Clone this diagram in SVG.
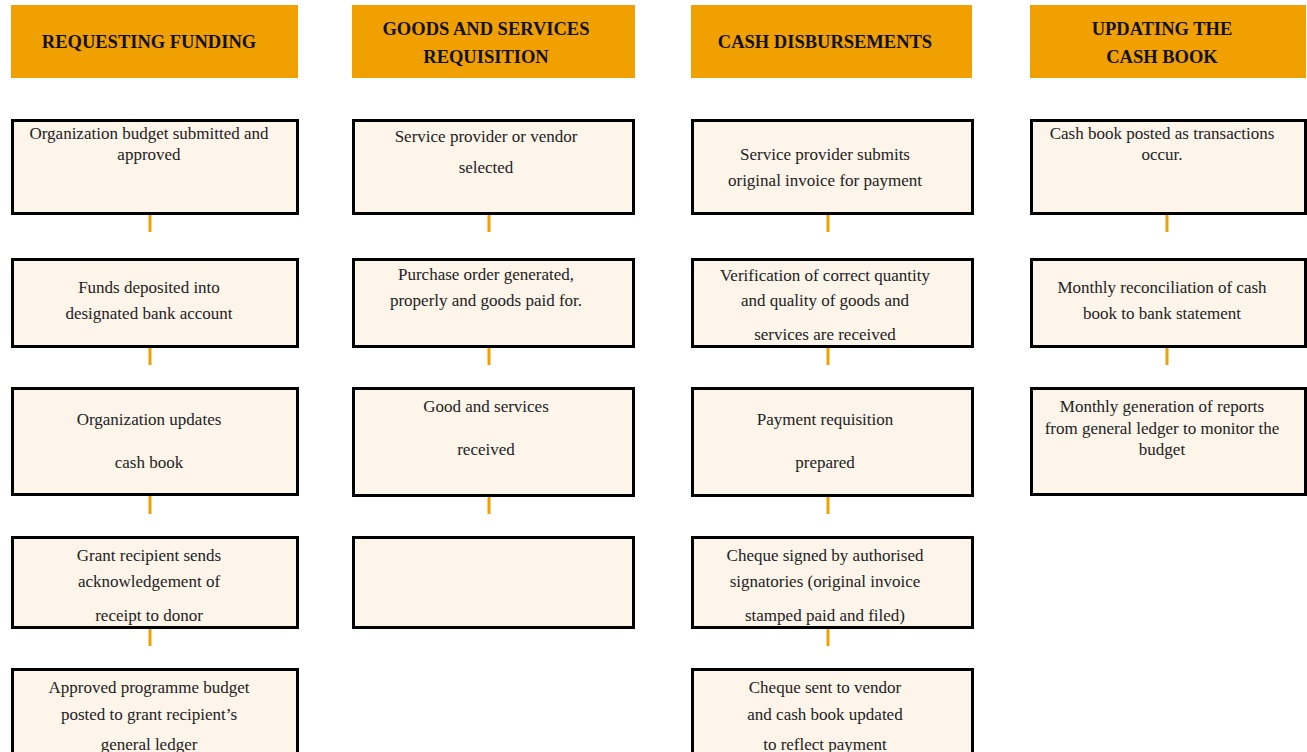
<svg xmlns="http://www.w3.org/2000/svg" width="1307" height="752" viewBox="0 0 1307 752">
<style>
.hdr{fill:#F0A000}
.box{fill:#FDF4EA;stroke:#000;stroke-width:3}
.ht{font-family:"Liberation Serif",serif;font-weight:bold;font-size:18.5px;fill:#111;text-anchor:middle}
.t{font-family:"Liberation Serif",serif;font-size:17px;fill:#222;text-anchor:middle}
.c{stroke:#F0A000;stroke-width:3;fill:none}
</style>
<rect width="1307" height="752" fill="#fff"/>
<g id="h1"><rect class="hdr" x="11" y="5" width="287" height="73"/><text class="ht" x="149" y="48">REQUESTING FUNDING</text></g>
<g id="h2"><rect class="hdr" x="352" y="5" width="283" height="73"/><text class="ht" x="486" y="35">GOODS AND SERVICES</text><text class="ht" x="486" y="63">REQUISITION</text></g>
<g id="h3"><rect class="hdr" x="691" y="5" width="281" height="73"/><text class="ht" x="825" y="48">CASH DISBURSEMENTS</text></g>
<g id="h4"><rect class="hdr" x="1030" y="5" width="276" height="73"/><text class="ht" x="1162" y="35">UPDATING THE</text><text class="ht" x="1162" y="63">CASH BOOK</text></g>

<g id="connectors">
<line class="c" x1="150" y1="214" x2="150" y2="232"/>
<line class="c" x1="150" y1="347" x2="150" y2="365"/>
<line class="c" x1="150" y1="495" x2="150" y2="514"/>
<line class="c" x1="150" y1="628" x2="150" y2="646"/>
<line class="c" x1="489" y1="214" x2="489" y2="232"/>
<line class="c" x1="489" y1="347" x2="489" y2="365"/>
<line class="c" x1="489" y1="496" x2="489" y2="514"/>
<line class="c" x1="828" y1="214" x2="828" y2="232"/>
<line class="c" x1="828" y1="347" x2="828" y2="365"/>
<line class="c" x1="828" y1="496" x2="828" y2="514"/>
<line class="c" x1="828" y1="628" x2="828" y2="646"/>
<line class="c" x1="1167" y1="214" x2="1167" y2="232"/>
<line class="c" x1="1167" y1="347" x2="1167" y2="365"/>
</g>

<g id="n1a"><rect class="box" x="12.5" y="120.5" width="285" height="93"/><text class="t" x="149" y="139">Organization budget submitted and</text><text class="t" x="149" y="160">approved</text></g>
<g id="n1b"><rect class="box" x="12.5" y="259.5" width="285" height="87"/><text class="t" x="149" y="293">Funds deposited into</text><text class="t" x="149" y="319">designated bank account</text></g>
<g id="n1c"><rect class="box" x="12.5" y="388.5" width="285" height="106"/><text class="t" x="149" y="425">Organization updates</text><text class="t" x="149" y="468">cash book</text></g>
<g id="n1d"><rect class="box" x="12.5" y="537.5" width="285" height="90"/><text class="t" x="149" y="561">Grant recipient sends</text><text class="t" x="149" y="587">acknowledgement of</text><text class="t" x="149" y="621">receipt to donor</text></g>
<g id="n1e"><rect class="box" x="12.5" y="669.5" width="285" height="100"/><text class="t" x="149" y="693">Approved programme budget</text><text class="t" x="149" y="720">posted to grant recipient’s</text><text class="t" x="149" y="750">general ledger</text></g>

<g id="n2a"><rect class="box" x="353.5" y="120.5" width="280" height="93"/><text class="t" x="486" y="142">Service provider or vendor</text><text class="t" x="486" y="173">selected</text></g>
<g id="n2b"><rect class="box" x="353.5" y="259.5" width="280" height="87"/><text class="t" x="486" y="280">Purchase order generated,</text><text class="t" x="486" y="306">properly and goods paid for.</text></g>
<g id="n2c"><rect class="box" x="353.5" y="388.5" width="280" height="107"/><text class="t" x="486" y="412">Good and services</text><text class="t" x="486" y="455">received</text></g>
<g id="n2d"><rect class="box" x="353.5" y="537.5" width="280" height="90"/></g>

<g id="n3a"><rect class="box" x="692.5" y="120.5" width="280" height="93"/><text class="t" x="825" y="160">Service provider submits</text><text class="t" x="825" y="186">original invoice for payment</text></g>
<g id="n3b"><rect class="box" x="692.5" y="259.5" width="280" height="87"/><text class="t" x="825" y="281">Verification of correct quantity</text><text class="t" x="825" y="306">and quality of goods and</text><text class="t" x="825" y="340">services are received</text></g>
<g id="n3c"><rect class="box" x="692.5" y="388.5" width="280" height="107"/><text class="t" x="825" y="425">Payment requisition</text><text class="t" x="825" y="468">prepared</text></g>
<g id="n3d"><rect class="box" x="692.5" y="537.5" width="280" height="90"/><text class="t" x="825" y="561">Cheque signed by authorised</text><text class="t" x="825" y="587">signatories (original invoice</text><text class="t" x="825" y="621">stamped paid and filed)</text></g>
<g id="n3e"><rect class="box" x="692.5" y="669.5" width="280" height="100"/><text class="t" x="825" y="693">Cheque sent to vendor</text><text class="t" x="825" y="720">and cash book updated</text><text class="t" x="825" y="750">to reflect payment</text></g>

<g id="n4a"><rect class="box" x="1031.5" y="120.5" width="274" height="93"/><text class="t" x="1162" y="139">Cash book posted as transactions</text><text class="t" x="1162" y="160">occur.</text></g>
<g id="n4b"><rect class="box" x="1031.5" y="259.5" width="274" height="87"/><text class="t" x="1162" y="293">Monthly reconciliation of cash</text><text class="t" x="1162" y="319">book to bank statement</text></g>
<g id="n4c"><rect class="box" x="1031.5" y="388.5" width="274" height="106"/><text class="t" x="1162" y="412">Monthly generation of reports</text><text class="t" x="1162" y="434">from general ledger to monitor the</text><text class="t" x="1162" y="455">budget</text></g>
</svg>
